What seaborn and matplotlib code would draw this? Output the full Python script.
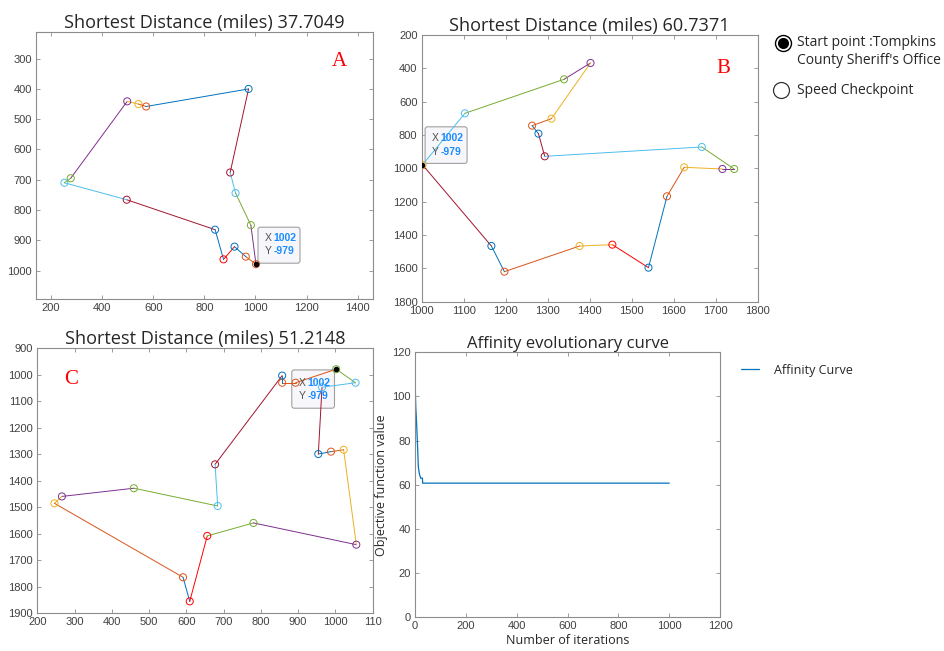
import matplotlib
matplotlib.use("Agg")
import matplotlib.pyplot as plt
import matplotlib.transforms as mtransforms
from matplotlib.lines import Line2D
from matplotlib.patches import FancyBboxPatch
import pandas as pd
import seaborn as sns

sns.set_style("white")
plt.rcParams["font.family"] = ["Liberation Sans", "DejaVu Sans"]

# matlab default line colours (+ pure red)
colors = {"b": "#0072BD", "o": "#D95319", "y": "#EDB120", "p": "#7E2F8E",
          "g": "#77AC30", "c": "#4DBEEE", "m": "#A2142F", "r": "#FF0000"}

# route A  (first point = start, route closes back to it)
a_x = [1002, 962, 918, 875, 842, 496, 252, 277, 498, 542, 572, 973, 901, 922, 982]
a_y = [979, 954, 921, 963, 865, 766, 710, 695, 441, 450, 458, 400, 676, 744, 850]
a_mark = ["o", "o", "b", "r", "b", "m", "c", "g", "p", "y", "o", "b", "m", "c", "g"]
a_seg = ["o", "b", "r", "b", "m", "c", "g", "p", "y", "o", "b", "m", "c", "g", "p"]
a_dist = "37.7049"

# route B
b_x = [1002, 1103, 1339, 1402, 1309, 1263, 1278, 1293, 1667, 1744, 1716, 1625,
       1584, 1540, 1454, 1376, 1197, 1166]
b_y = [979, 670, 466, 368, 702, 744, 792, 928, 872, 1004, 1004, 994,
       1168, 1596, 1458, 1466, 1620, 1466]
b_mark = ["y", "c", "g", "p", "y", "o", "b", "m", "c", "g", "p", "y",
          "o", "b", "r", "y", "o", "b"]
b_seg = ["c", "g", "p", "y", "o", "b", "m", "c", "g", "p", "y", "o",
         "b", "r", "y", "o", "b", "m"]
b_dist = "60.7371"

# route C
c_x = [1002, 893, 857, 857, 677, 684, 459, 266, 246, 591, 609, 656, 780,
       1056, 1022, 988, 954, 964, 1054]
c_y = [979, 1030, 1030, 1003, 1338, 1495, 1428, 1459, 1485, 1764, 1855, 1608,
       1559, 1641, 1283, 1290, 1299, 1047, 1030]
c_mark = ["g", "o", "o", "b", "m", "c", "g", "p", "y", "o", "r", "r", "g",
          "p", "y", "o", "b", "c", "c"]
c_seg = ["o", "o", "b", "m", "c", "g", "p", "y", "o", "b", "r", "g", "p",
         "y", "o", "b", "m", "c", "g"]
c_dist = "51.2148"

# affinity curve
iters = [0, 0, 1, 3, 6, 9, 13, 17, 22, 29, 30, 1000]
affinity = [0, 106, 103, 95, 88, 80, 68, 65, 63, 63, 60.7371, 60.7371]

tip_x, tip_y = "1002", "-979"

fig = plt.figure(figsize=(9.45, 6.51), dpi=100)
axA = fig.add_axes([0.0381, 0.5407, 0.3566, 0.4101])
axB = fig.add_axes([0.4462, 0.5366, 0.3556, 0.4097])
axC = fig.add_axes([0.0395, 0.0579, 0.3549, 0.4071])
axD = fig.add_axes([0.4392, 0.0518, 0.3228, 0.4071])

title_font = ["Open Sans", "DejaVu Sans"]


def style(ax):
    ax.tick_params(direction="in", top=True, right=True, bottom=True, left=True,
                   length=3, width=0.6, color="#8c8c8c", labelcolor="#404040",
                   labelsize=8, pad=3)
    for sp in ax.spines.values():
        sp.set_color("#8c8c8c")
        sp.set_linewidth(0.8)
    ax.set_xlabel("")
    ax.set_ylabel("")


def route(ax, xs, ys, mark, seg):
    n = len(xs)
    rows = []
    for i in range(n):
        j = (i + 1) % n
        rows.append((f"s{i:02d}", xs[i], ys[i]))
        rows.append((f"s{i:02d}", xs[j], ys[j]))
    df = pd.DataFrame(rows, columns=["seg", "x", "y"])
    pal = {f"s{i:02d}": colors[c] for i, c in enumerate(seg)}
    sns.lineplot(data=df, x="x", y="y", hue="seg", palette=pal, sort=False,
                 estimator=None, lw=0.7, legend=False, ax=ax, zorder=2)
    pts = pd.DataFrame({"x": xs, "y": ys, "c": mark})
    sns.scatterplot(data=pts, x="x", y="y", hue="c", palette=colors, s=26,
                    legend=False, ax=ax, zorder=3)
    coll = ax.collections[-1]
    coll.set_edgecolors(coll.get_facecolors())
    coll.set_facecolor("none")
    coll.set_linewidth(0.7)
    ax.scatter([xs[0]], [ys[0]], s=9, color="k", zorder=5)


def datatip(ax, x0, y0, bx, by, w, h):
    tr = fig.dpi_scale_trans + mtransforms.ScaledTranslation(x0, y0, ax.transData)
    box = FancyBboxPatch((bx, by), w, h, boxstyle="round,pad=0,rounding_size=0.025",
                         transform=tr, fc="#f7f7fb", ec="#a0a0a0", lw=0.8,
                         zorder=1.5, clip_on=False)
    ax.add_artist(box)
    for dy, lab, val in [(0.255, "X", tip_x), (0.118, "Y", tip_y)]:
        ax.text(bx + 0.065, by + dy, lab, transform=tr, color="#505050",
                fontsize=7.5, va="center", zorder=6)
        ax.text(bx + 0.155, by + dy, val, transform=tr, color="#1a8cff",
                fontsize=7.5, fontweight="bold", va="center", zorder=6)


# panel A
route(axA, a_x, a_y, a_mark, a_seg)
style(axA)
axA.set_xlim(141, 1460)
axA.set_ylim(1094, 212)
axA.set_xticks(range(200, 1401, 200))
axA.set_yticks(range(300, 1001, 100))
axA.set_title("Shortest Distance (miles) " + a_dist, family=title_font,
              fontsize=13.1, pad=3)
axA.text(0.90, 0.89, "A", transform=axA.transAxes, color="red",
         family="Liberation Serif", fontsize=15, ha="center", va="center")
datatip(axA, a_x[0], a_y[0], 0.02, 0.01, 0.42, 0.36)

# panel B
route(axB, b_x, b_y, b_mark, b_seg)
style(axB)
axB.set_xlim(1000, 1800)
axB.set_ylim(1800, 200)
axB.set_xticks(range(1000, 1801, 100))
axB.set_yticks(range(200, 1801, 200))
axB.set_title("Shortest Distance (miles) " + b_dist, family=title_font,
              fontsize=13.1, pad=3)
axB.text(0.8975, 0.875, "B", transform=axB.transAxes, color="red",
         family="Liberation Serif", fontsize=15, ha="center", va="center")
datatip(axB, b_x[0], b_y[0], 0.026, 0.014, 0.42, 0.366)

# panel C
route(axC, c_x, c_y, c_mark, c_seg)
style(axC)
axC.set_xlim(200, 1100)
axC.set_ylim(1900, 900)
c_xticks = list(range(200, 1101, 100))
axC.set_xticks(c_xticks)
axC.set_xticklabels([str(t) for t in c_xticks[:-1]] + ["110"])
axC.set_yticks(range(900, 1901, 100))
axC.set_title("Shortest Distance (miles) " + c_dist, family=title_font,
              fontsize=13.1, pad=3)
axC.text(0.101, 0.881, "C", transform=axC.transAxes, color="red",
         family="Liberation Serif", fontsize=15, ha="center", va="center")
datatip(axC, c_x[0], c_y[0], -0.444, -0.39, 0.427, 0.383)

# panel D
sns.lineplot(x=iters, y=affinity, sort=False, estimator=None, color="#0072BD",
             lw=0.9, ax=axD, label="Affinity Curve")
style(axD)
axD.set_xlim(0, 1200)
axD.set_ylim(0, 120)
axD.set_xticks(range(0, 1201, 200))
axD.set_yticks(range(0, 121, 20))
axD.set_title("Affinity evolutionary curve", family=title_font, fontsize=12, pad=3)
axD.set_xlabel("Number of iterations", family=title_font, fontsize=9, labelpad=2)
axD.set_ylabel("Objective function value", family=title_font, fontsize=9, labelpad=3)
axD.legend(loc="center left", bbox_to_anchor=(1.07, 0.933), frameon=False,
           prop={"family": title_font, "size": 9}, handlelength=1.4,
           handletextpad=1.2, borderpad=0, borderaxespad=0)

# route legend (top right)
fig.add_artist(Line2D([783 / 945], [1 - 43 / 651], transform=fig.transFigure,
                      marker="o", ms=11.5, mfc="white", mec="black", mew=1.0))
fig.add_artist(Line2D([783 / 945], [1 - 43 / 651], transform=fig.transFigure,
                      marker="o", ms=8, mfc="black", mec="black", mew=0))
fig.add_artist(Line2D([781 / 945], [1 - 90 / 651], transform=fig.transFigure,
                      marker="o", ms=11.5, mfc="none", mec="#333333", mew=0.9))
fig.text(797 / 945, 1 - 43 / 651, "Start point :Tompkins", family=title_font,
         fontsize=10, va="center")
fig.text(797 / 945, 1 - 61 / 651, "County Sheriff's Office", family=title_font,
         fontsize=10, va="center")
fig.text(797 / 945, 1 - 90 / 651, "Speed Checkpoint", family=title_font,
         fontsize=10, va="center")

fig.savefig("out.png", dpi=100)
